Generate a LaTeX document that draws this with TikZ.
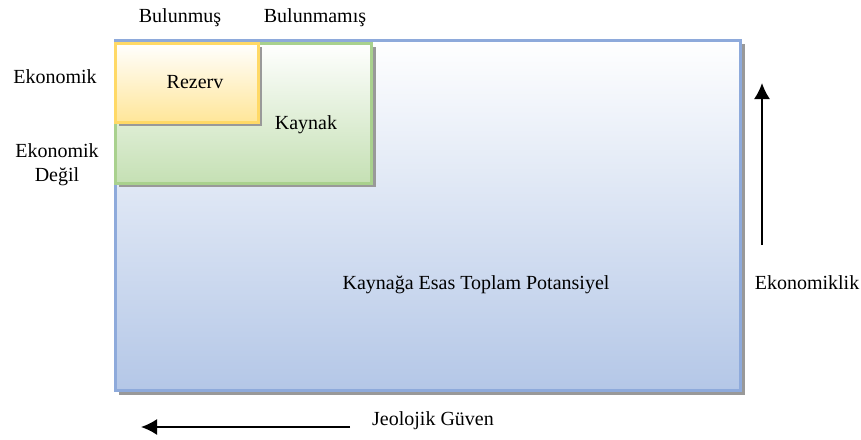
\documentclass[tikz,border=0pt]{standalone}
\usepackage{fontspec}
\setmainfont{Liberation Serif}
\usetikzlibrary{arrows.meta}

\definecolor{potline}{HTML}{8EAADB}
\definecolor{potfill}{HTML}{B4C7E7}
\definecolor{kayline}{HTML}{A9D18E}
\definecolor{kayfill}{HTML}{C5E0B4}
\definecolor{rezline}{HTML}{FFD966}
\definecolor{rezfill}{HTML}{FFE699}

\tikzset{
    box/.style={line width=1.5pt, top color=white},
    boxshadow/.style={fill=black!40, draw=none},
    lbl/.style={font=\fontsize{10}{12}\selectfont, align=center, inner sep=0pt},
    axis/.style={-{Latex[length=8pt,width=8pt]}, line width=0.9pt}
}

\begin{document}
\begin{tikzpicture}[x=0.5pt, y=-0.5pt]
    \useasboundingbox (0,0) rectangle (861,439);

    % Kaynaga Esas Toplam Potansiyel
    \fill[boxshadow] (119,44) rectangle (745,395);
    \draw[box, draw=potline, bottom color=potfill] (115,40) rectangle (740,390);

    % Kaynak
    \fill[boxshadow] (119,47) rectangle (376,187);
    \draw[box, draw=kayline, bottom color=kayfill] (115,43) rectangle (371,183);

    % Rezerv
    \fill[boxshadow] (119,47) rectangle (262,126);
    \draw[box, draw=rezline, bottom color=rezfill] (115,43) rectangle (258,122);

    % etiketler
    \node[lbl] (bulunmus) at (180,18) {Bulunmuş};
    \node[lbl] (bulunmamis) at (315,18) {Bulunmamış};
    \node[lbl] (ekonomik) at (55,77) {Ekonomik};
    \node[lbl] (ekdegil) at (57,165) {Ekonomik\\Değil};
    \node[lbl] (rezerv) at (195,82) {Rezerv};
    \node[lbl] (kaynak) at (306,125) {Kaynak};
    \node[lbl] (potansiyel) at (476,285) {Kaynağa Esas Toplam Potansiyel};
    \node[lbl] (ekonomiklik) at (807,283) {Ekonomiklik};
    \node[lbl] (guven) at (433,421) {Jeolojik Güven};

    % oklar
    \coordinate (ekalt) at (762,245);
    \coordinate (ekust) at (762,83);
    \coordinate (gsag) at (350,427);
    \coordinate (gsol) at (141,427);
    \draw[axis] (ekalt) -- (ekust);
    \draw[axis] (gsag) -- (gsol);
\end{tikzpicture}
\end{document}
